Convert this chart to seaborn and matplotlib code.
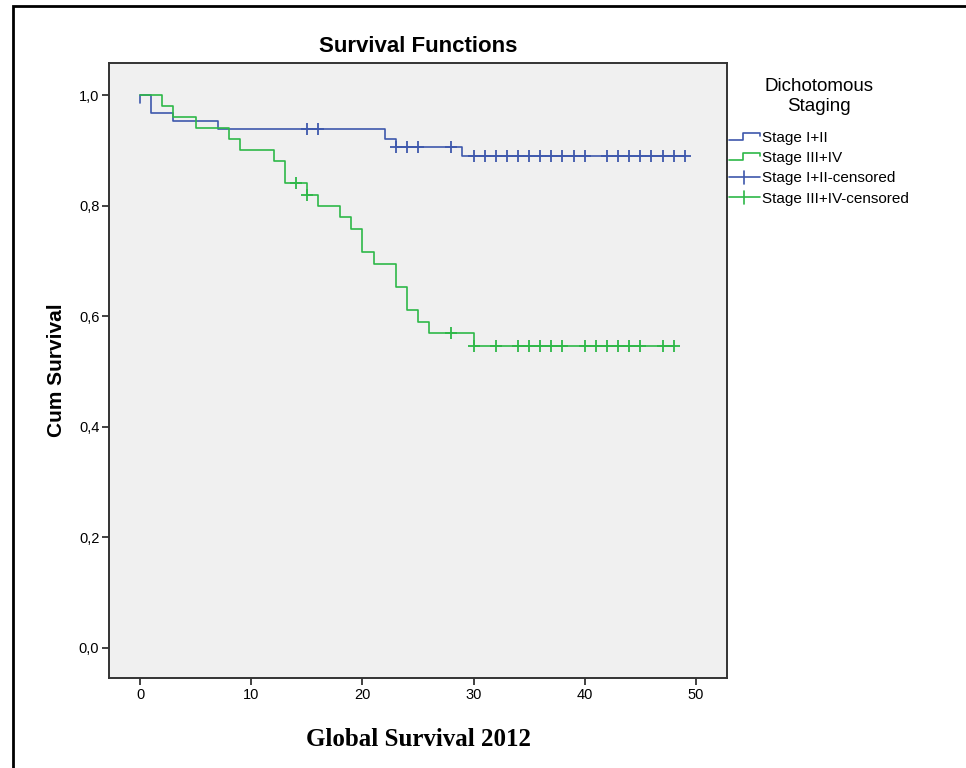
"""
Kaplan-Meier survival curves by dichotomous staging (SPSS-style look)
"""

import numpy as np
import pandas as pd
import matplotlib
matplotlib.use("Agg")
import matplotlib.pyplot as plt
import seaborn as sns
from matplotlib.lines import Line2D
from matplotlib.patches import Rectangle
from matplotlib.legend_handler import HandlerBase

# ============================================================================
# 1. DATA
# ============================================================================

# Stage I+II : step times (months) and cumulative survival after each step
blue_times = [0, 0, 1, 3, 7, 22, 23, 29, 49]
blue_surv = [0.985, 1.0, 0.968, 0.953, 0.938, 0.921, 0.906, 0.889, 0.889]
blue_censored = [15, 16, 23, 24, 25, 28, 30, 31, 32, 33, 34, 35, 36, 37, 38,
                 39, 40, 42, 43, 44, 45, 46, 47, 48, 49]

# Stage III+IV
green_times = [0, 2, 3, 5, 8, 9, 12, 13, 15, 16, 18, 19, 20, 21, 23, 24, 25, 26, 30, 48]
green_surv = [1.0, 0.981, 0.961, 0.941, 0.921, 0.901, 0.881, 0.841, 0.820, 0.799,
              0.779, 0.758, 0.716, 0.695, 0.653, 0.611, 0.590, 0.569, 0.545, 0.545]
green_censored = [14, 15, 28, 30, 32, 34, 35, 36, 37, 38, 40, 41, 42, 43, 44, 45, 47, 48]

group_labels = ['Stage I+II', 'Stage III+IV', 'Stage I+II-censored', 'Stage III+IV-censored']
x_ticks = [0, 10, 20, 30, 40, 50]
y_ticks = [0.0, 0.2, 0.4, 0.6, 0.8, 1.0]
y_tick_labels = ['0,0', '0,2', '0,4', '0,6', '0,8', '1,0']

BLUE = '#3E58AC'
GREEN = '#2EB848'


def surv_at(times, surv, t):
    # value of the step function just after time t
    idx = np.searchsorted(times, t, side='right') - 1
    return surv[idx]


df_blue = pd.DataFrame({'time': blue_times, 'surv': blue_surv})
df_green = pd.DataFrame({'time': green_times, 'surv': green_surv})
cens_blue = pd.DataFrame({'time': blue_censored,
                          'surv': [surv_at(blue_times, blue_surv, t) for t in blue_censored]})
cens_green = pd.DataFrame({'time': green_censored,
                           'surv': [surv_at(green_times, green_surv, t) for t in green_censored]})

# ============================================================================
# 2. FIGURE
# ============================================================================

sns.set_style('white')
plt.rcParams['font.family'] = ['Liberation Sans', 'DejaVu Sans']
plt.rcParams['text.color'] = 'black'
plt.rcParams['axes.labelcolor'] = 'black'
plt.rcParams['xtick.color'] = 'black'
plt.rcParams['ytick.color'] = 'black'

fig = plt.figure(figsize=(9.66, 7.68), dpi=100)
ax = fig.add_axes([109 / 966, 1 - 678 / 768, 618 / 966, 615 / 768])
ax.set_facecolor('#F0F0F0')

sns.lineplot(data=df_blue, x='time', y='surv', ax=ax, estimator=None, sort=False,
             drawstyle='steps-post', color=BLUE, linewidth=1.2)
sns.scatterplot(data=cens_blue, x='time', y='surv', ax=ax, marker='+', s=70,
                color=BLUE, linewidth=1.3, zorder=3)
sns.lineplot(data=df_green, x='time', y='surv', ax=ax, estimator=None, sort=False,
             drawstyle='steps-post', color=GREEN, linewidth=1.2)
sns.scatterplot(data=cens_green, x='time', y='surv', ax=ax, marker='+', s=70,
                color=GREEN, linewidth=1.3, zorder=3)

ax.set_xlim(-2.8, 52.8)
ax.set_ylim(-0.055, 1.058)
ax.set_xticks(x_ticks)
ax.set_xticklabels([str(v) for v in x_ticks])
ax.set_yticks(y_ticks)
ax.set_yticklabels(y_tick_labels)
ax.tick_params(axis='both', which='major', direction='out', length=5, width=1.3,
               color='#333333', labelcolor='black', labelsize=10.5, pad=2,
               bottom=True, left=True)

for side in ['left', 'right', 'top', 'bottom']:
    ax.spines[side].set_visible(True)
    ax.spines[side].set_color('#333333')
    ax.spines[side].set_linewidth(1.4)

ax.set_title('Survival Functions', fontsize=16, fontweight='bold', pad=8, color='black')
ax.set_ylabel('Cum Survival', fontsize=15, fontweight='bold', labelpad=9, color='black')
ax.set_xlabel('Global Survival 2012', fontsize=18, fontweight='bold', color='black',
              family=['Liberation Serif', 'DejaVu Serif'], labelpad=19)

# ============================================================================
# 3. LEGEND (step icons for curves, plus for censored)
# ============================================================================


class StepHandler(HandlerBase):
    def create_artists(self, legend, orig_handle, xdescent, ydescent,
                       width, height, fontsize, trans):
        x0 = -xdescent
        y0 = -ydescent
        xs = [x0, x0 + 0.45 * width, x0 + 0.45 * width, x0 + width, x0 + width]
        ys = [y0 + 0.2 * height, y0 + 0.2 * height, y0 + 0.9 * height,
              y0 + 0.9 * height, y0 + 0.55 * height]
        line = Line2D(xs, ys, color=orig_handle.get_color(), linewidth=1.2,
                      transform=trans)
        return [line]


class PlusHandler(HandlerBase):
    def create_artists(self, legend, orig_handle, xdescent, ydescent,
                       width, height, fontsize, trans):
        x0 = -xdescent
        y0 = -ydescent
        ym = y0 + 0.5 * height
        h = Line2D([x0, x0 + width], [ym, ym], color=orig_handle.get_color(),
                   linewidth=1.2, transform=trans)
        v = Line2D([x0 + 0.5 * width] * 2, [y0 - 0.1 * height, y0 + 1.1 * height],
                   color=orig_handle.get_color(), linewidth=1.2, transform=trans)
        return [h, v]


h_blue = Line2D([], [], color=BLUE)
h_green = Line2D([], [], color=GREEN)
h_blue_c = Line2D([], [], color=BLUE)
h_green_c = Line2D([], [], color=GREEN)

leg = fig.legend([h_blue, h_green, h_blue_c, h_green_c], group_labels,
                 loc='upper left', bbox_to_anchor=(729 / 966, 1 - 78 / 768),
                 frameon=False, fontsize=11, title='Dichotomous\nStaging',
                 title_fontsize=13.5, handlelength=2.0, handletextpad=0.15,
                 labelspacing=0.4, borderpad=0, borderaxespad=0,
                 handler_map={h_blue: StepHandler(), h_green: StepHandler(),
                              h_blue_c: PlusHandler(), h_green_c: PlusHandler()})
leg.get_title().set_multialignment('center')
leg.get_title().set_color('black')
for txt in leg.get_texts():
    txt.set_color('black')
leg._legend_box.sep = 12

# outer frame of the picture
fig.patches.append(Rectangle((13 / 966, -0.02), 1.0, 1 - 6 / 768 + 0.02,
                             transform=fig.transFigure, fill=False,
                             edgecolor='black', linewidth=2))

plt.savefig('out.png', dpi=100)
plt.close()
